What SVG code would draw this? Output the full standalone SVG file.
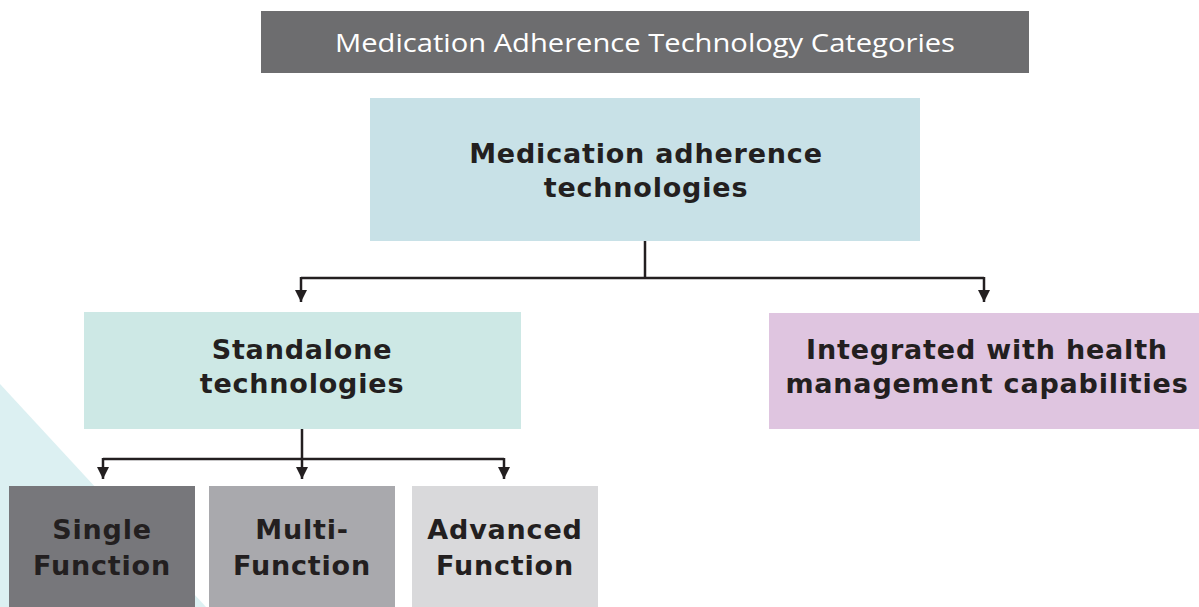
<svg xmlns="http://www.w3.org/2000/svg" width="1199" height="607" viewBox="0 0 1199 607">
  <defs>
    <marker id="arrow" viewBox="0 0 10 10" refX="10" refY="5" markerWidth="5" markerHeight="5" markerUnits="strokeWidth" orient="auto">
      <path d="M0,0 L10,5 L0,10 Z" fill="#231f20"/>
    </marker>
  </defs>
  <style>
    .lbl { font-family: "DejaVu Sans", Verdana, sans-serif; font-weight: bold; font-size: 27px; letter-spacing: 0.8px; fill: #231f20; text-anchor: middle; }
    .conn { fill: none; stroke: #231f20; stroke-width: 2.5; }
  </style>
  <rect width="1199" height="607" fill="#ffffff"/>
  <!-- background accent -->
  <polygon points="0,384 206,607 0,607" fill="#dcf0f2"/>

  <g id="title">
    <rect x="261" y="11" width="768" height="62" fill="#6d6d6f"/>
    <text x="645" y="52" font-family="'Open Sans', 'Liberation Sans', sans-serif" font-size="25" fill="#ffffff" text-anchor="middle" textLength="620" lengthAdjust="spacingAndGlyphs">Medication Adherence Technology Categories</text>
  </g>

  <g id="connectors">
    <path class="conn" d="M645,241 V278"/>
    <path class="conn" d="M301,278 H984"/>
    <path class="conn" d="M301,277 V302" marker-end="url(#arrow)"/>
    <path class="conn" d="M984,277 V302" marker-end="url(#arrow)"/>
    <path class="conn" d="M302,429 V459"/>
    <path class="conn" d="M103,459 H504"/>
    <path class="conn" d="M103,458 V479" marker-end="url(#arrow)"/>
    <path class="conn" d="M302,458 V479" marker-end="url(#arrow)"/>
    <path class="conn" d="M504,458 V479" marker-end="url(#arrow)"/>
  </g>

  <g id="root">
    <rect x="370" y="98" width="550" height="143" fill="#c8e1e7"/>
    <text class="lbl" x="646" y="163">Medication adherence</text>
    <text class="lbl" x="646" y="197">technologies</text>
  </g>

  <g id="standalone">
    <rect x="84" y="312" width="437" height="117" fill="#cde8e5"/>
    <text class="lbl" x="302" y="359">Standalone</text>
    <text class="lbl" x="302" y="393">technologies</text>
  </g>

  <g id="integrated">
    <rect x="769" y="313" width="430" height="116" fill="#dfc5e0"/>
    <text class="lbl" x="987" y="359">Integrated with health</text>
    <text class="lbl" x="987" y="393">management capabilities</text>
  </g>

  <g id="single">
    <rect x="9" y="486" width="186" height="121" fill="#77777b"/>
    <text class="lbl" x="102" y="539">Single</text>
    <text class="lbl" x="102" y="575">Function</text>
  </g>

  <g id="multi">
    <rect x="209" y="486" width="186" height="121" fill="#a9a9ad"/>
    <text class="lbl" x="302" y="539">Multi-</text>
    <text class="lbl" x="302" y="575">Function</text>
  </g>

  <g id="advanced">
    <rect x="412" y="486" width="186" height="121" fill="#d9d9db"/>
    <text class="lbl" x="505" y="539">Advanced</text>
    <text class="lbl" x="505" y="575">Function</text>
  </g>
</svg>
